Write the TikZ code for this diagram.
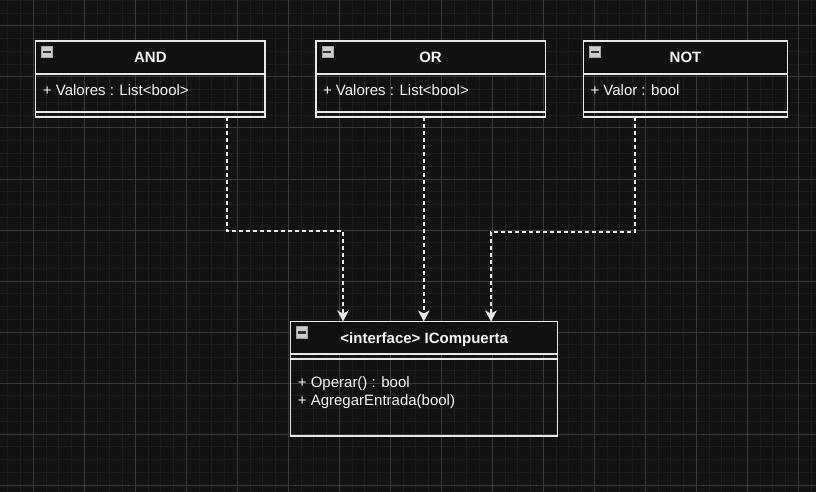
\documentclass[tikz,border=0pt]{standalone}
\usepackage{fontspec}
\setmainfont{Liberation Sans}
\usepackage{xcolor}
\usepackage{tikz}
\usetikzlibrary{positioning,arrows.meta}

\definecolor{canvas}{HTML}{121212}
\definecolor{gridminor}{HTML}{1E1E1E}
\definecolor{gridmajor}{HTML}{3A3A3A}
\definecolor{umlfill}{HTML}{111111}
\definecolor{umlline}{HTML}{E8E8E8}
\definecolor{umltext}{HTML}{F4F4F4}

\newcommand{\umlfont}{\fontsize{15}{17.7}\selectfont}

\tikzset{
  umlhead/.style={draw=umlline, fill=umlfill, line width=1.3pt, inner sep=0pt, outer sep=0pt,
    minimum height=33pt, text height=10.7pt, text depth=0pt, font=\umlfont\bfseries, text=umltext},
  umlpart/.style={draw=umlline, line width=1.3pt, inner sep=0pt, outer sep=0pt},
  umlmember/.style={anchor=base west, inner sep=0pt, font=\umlfont, text=umltext},
  umlicon/.style={draw=gray!70, fill=gray!40!white, line width=0.6pt},
  umlbar/.style={draw=black!80, line width=2.4pt},
  dep/.style={draw=umlline, line width=1.5pt, dash pattern=on 4pt off 3pt,
    -{Stealth[length=11pt,width=11.5pt,inset=3pt,fill=umlline]}},
}

\begin{document}
\begin{tikzpicture}[x=1pt,y=-1pt]
    \useasboundingbox (0,0) rectangle (816,492);
    \fill[canvas] (0,0) rectangle (816,492);
    \foreach \i in {0,...,63} \draw[gridminor,line width=1pt] ({7.8+12.75*\i},0) -- ++(0,492);
    \foreach \i in {0,...,38} \draw[gridminor,line width=1pt] (0,{0.5+12.75*\i}) -- ++(816,0);
    \foreach \i in {0,...,16} \draw[gridmajor,line width=1pt] ({-17.7+51*\i},0) -- ++(0,492);
    \foreach \i in {0,...,9} \draw[gridmajor,line width=1pt] (0,{26+51*\i}) -- ++(816,0);

    \node[umlhead, minimum width=229.3pt] (and) at (150.4,57.5) {AND};
    \node[umlpart, minimum width=229.3pt, minimum height=38pt, below=0pt of and] (andattr) {};
    \node[umlpart, minimum width=229.3pt, minimum height=5pt, below=0pt of andattr] (andops) {};
    \node[umlmember] (andval) at ([shift={(7,22)}]andattr.north west) {+ Valores : List<bool>};

    \node[umlhead, minimum width=229.3pt] (or) at (430.5,57.5) {OR};
    \node[umlpart, minimum width=229.3pt, minimum height=38pt, below=0pt of or] (orattr) {};
    \node[umlpart, minimum width=229.3pt, minimum height=5pt, below=0pt of orattr] (orops) {};
    \node[umlmember] (orval) at ([shift={(7,22)}]orattr.north west) {+ Valores : List<bool>};

    \node[umlhead, minimum width=204.4pt] (not) at (685.5,57.5) {NOT};
    \node[umlpart, minimum width=204.4pt, minimum height=38pt, below=0pt of not] (notattr) {};
    \node[umlpart, minimum width=204.4pt, minimum height=5pt, below=0pt of notattr] (notops) {};
    \node[umlmember] (notval) at ([shift={(7,22)}]notattr.north west) {+ Valor : bool};

    \node[umlhead, minimum width=267pt, minimum height=32.5pt] (iface) at (424.2,337.75) {<interface> ICompuerta};
    \node[umlpart, minimum width=267pt, minimum height=5pt, below=0pt of iface] (ifaceattr) {};
    \node[umlpart, minimum width=267pt, minimum height=77pt, below=0pt of ifaceattr] (ifaceops) {};
    \node[umlmember] (operar) at ([shift={(7,28.3)}]ifaceops.north west) {+ Operar() : bool};
    \node[umlmember] (agregar) at ([shift={(7,46)}]ifaceops.north west) {+ AgregarEntrada(bool)};

    \foreach \cls in {and,or,not,iface} {
      \draw[umlicon] ([shift={(6,5)}]\cls.north west) rectangle ++(11,11.5);
      \draw[umlbar] ([shift={(7.5,11)}]\cls.north west) -- ++(8,0);
    }

    \coordinate (andknee) at (227,231);
    \coordinate (orin) at (423.8,0);
    \coordinate (notknee) at (635,232);
    \coordinate (andin) at (343,0);
    \coordinate (notin) at (491,0);
    \draw[dep] (andops.south -| andknee) -- (andknee) -| (iface.north -| andin);
    \draw[dep] (orops.south -| orin) -- (iface.north -| orin);
    \draw[dep] (notops.south -| notknee) -- (notknee) -| (iface.north -| notin);
\end{tikzpicture}
\end{document}
